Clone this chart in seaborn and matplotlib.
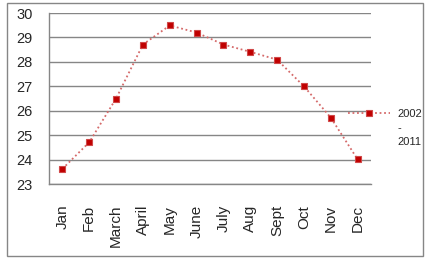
import matplotlib
matplotlib.use("Agg")
import matplotlib.pyplot as plt
import seaborn as sns
import pandas as pd
from matplotlib.patches import Rectangle

months = ["Jan", "Feb", "March", "April", "May", "June",
          "July", "Aug", "Sept", "Oct", "Nov", "Dec"]
temps = [23.62, 24.71, 26.5, 28.71, 29.49, 29.2,
         28.71, 28.41, 28.09, 27.0, 25.72, 24.01]
series_label = "2002\n-\n2011"

df = pd.DataFrame({"x": range(len(months)), "temp": temps})

sns.set_style("white")
plt.rcParams["font.family"] = ["Liberation Sans", "DejaVu Sans"]

fig = plt.figure(figsize=(4.27, 2.61), dpi=100)
ax = fig.add_axes([49 / 427, 1 - 184 / 261, (371 - 49) / 427, (184 - 13) / 261])

sns.lineplot(data=df, x="x", y="temp", ax=ax, color="#D56A6A", linestyle=(0, (1, 1.5)),
             linewidth=1.3, marker="s", markersize=5, markerfacecolor="#C00000",
             markeredgecolor="#D04848", markeredgewidth=0.8, label=series_label)

ax.set_xlim(-0.5, len(months) - 0.5)
ax.set_ylim(23, 30)
ax.set_yticks(range(23, 31))
ax.grid(axis="y", color="#868686", linewidth=1)
ax.set_axisbelow(True)

ax.set_xticks(range(len(months)))
ax.set_xticklabels(months, rotation=90, fontsize=11)
ax.set_xticks([i - 0.5 for i in range(len(months) + 1)], minor=True)
ax.tick_params(axis="x", which="major", length=0, pad=15)
ax.tick_params(axis="x", which="minor", length=5, color="#868686", width=1)
ax.tick_params(axis="y", length=3.6, color="#868686", width=1, labelsize=10.5, pad=8)
ax.set_xlabel("")
ax.set_ylabel("")

for side in ["top", "right"]:
    ax.spines[side].set_visible(False)
for side in ["left", "bottom"]:
    ax.spines[side].set_color("#868686")
    ax.spines[side].set_linewidth(1)

leg = ax.legend(loc="center left", bbox_to_anchor=(348 / 427, 0.508), frameon=False,
                fontsize=8, handlelength=3.8, handletextpad=0.63, borderaxespad=0,
                borderpad=0, bbox_transform=fig.transFigure)
# marker sits level with the first line of the label, like in Excel
for row in leg._legend_handle_box.get_children():
    for entry in row.get_children():
        entry.align = "top"
for t in leg.get_texts():
    t.set_linespacing(1.5)

fig.patches.append(Rectangle((7 / 427, 1 - 256 / 261), 416 / 427, 253 / 261,
                             transform=fig.transFigure, fill=False,
                             edgecolor="#868686", linewidth=1))

fig.savefig("out.png", dpi=100)
